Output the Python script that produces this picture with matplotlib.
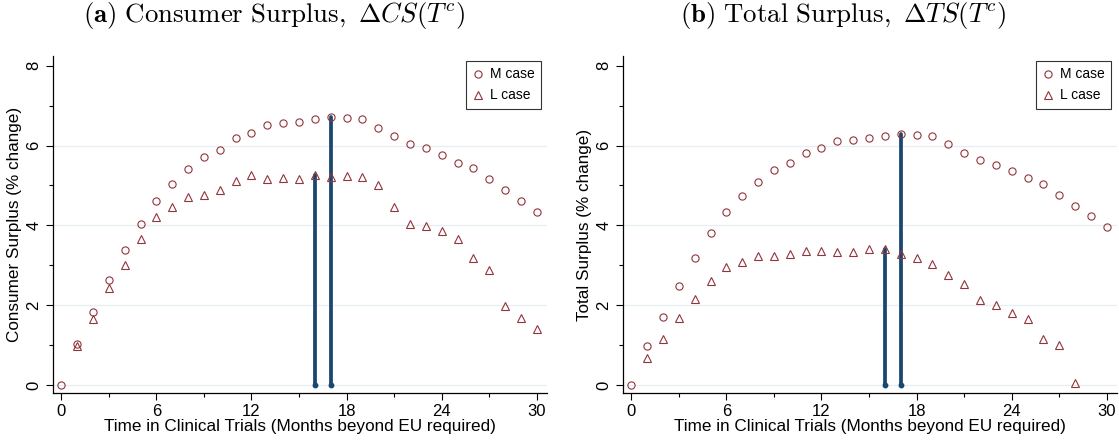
import matplotlib
matplotlib.use("Agg")
import matplotlib.pyplot as plt

plt.rcParams["font.family"] = ["Liberation Sans", "DejaVu Sans"]
plt.rcParams["mathtext.fontset"] = "cm"

months = list(range(31))

# Panel (a): consumer surplus, % change
cs_m = [0.0, 1.03, 1.82, 2.64, 3.37, 4.04, 4.61, 5.04, 5.41, 5.72, 5.90,
        6.19, 6.31, 6.51, 6.56, 6.60, 6.66, 6.71, 6.70, 6.66, 6.45,
        6.23, 6.03, 5.93, 5.76, 5.57, 5.43, 5.17, 4.88, 4.61, 4.34]
cs_l = [None, 0.98, 1.66, 2.42, 3.00, 3.67, 4.22, 4.45, 4.71, 4.77, 4.89,
        5.11, 5.25, 5.16, 5.19, 5.15, 5.26, 5.21, 5.23, 5.20, 5.01,
        4.47, 4.03, 3.99, 3.87, 3.66, 3.17, 2.88, 1.99, 1.69, 1.41]

# Panel (b): total surplus, % change
ts_m = [0.0, 0.98, 1.71, 2.49, 3.17, 3.81, 4.33, 4.73, 5.09, 5.38, 5.55,
        5.82, 5.94, 6.12, 6.15, 6.19, 6.25, 6.30, 6.27, 6.23, 6.03,
        5.81, 5.63, 5.52, 5.36, 5.18, 5.03, 4.77, 4.49, 4.23, 3.97]
ts_l = [None, 0.67, 1.14, 1.69, 2.16, 2.61, 2.96, 3.07, 3.22, 3.22, 3.27,
        3.36, 3.36, 3.32, 3.34, 3.40, 3.40, 3.27, 3.19, 3.04, 2.75,
        2.52, 2.13, 2.00, 1.81, 1.65, 1.14, 0.99, 0.04, None, None]

# optimal trial length (months) marked by arrows
opt_l = 16
opt_m = 17

panels = [
    (r"$\mathbf{(a)}\ \mathrm{Consumer\ Surplus,}\ \Delta CS(T^c)$",
     "Consumer Surplus (% change)", cs_m, cs_l),
    (r"$\mathbf{(b)}\ \mathrm{Total\ Surplus,}\ \Delta TS(T^c)$",
     "Total Surplus (% change)", ts_m, ts_l),
]

RED = "#90353b"
NAVY = "#1a476f"
GRID = "#e6eef1"

fig = plt.figure(figsize=(11.19, 4.45), dpi=100)
lefts = [0.0471, 0.5565]
title_x = [83 / 1119, 680 / 1119]

for i, (title, ylabel, m_vals, l_vals) in enumerate(panels):
    ax = fig.add_axes([lefts[i], 0.1169, 0.4415, 0.757])

    xm = [x for x, v in zip(months, m_vals) if v is not None]
    ym = [v for v in m_vals if v is not None]
    xl = [x for x, v in zip(months, l_vals) if v is not None]
    yl = [v for v in l_vals if v is not None]

    for g in [0, 2, 4, 6]:
        ax.axhline(g, color=GRID, lw=0.9, zorder=0)

    # arrows from zero up to the optimum of each case
    for xo, top in [(opt_l, l_vals[opt_l]), (opt_m, m_vals[opt_m])]:
        ax.plot([xo, xo], [0, top], color=NAVY, lw=2.7,
                solid_capstyle="round", zorder=2)
        ax.plot([xo], [0], ls="none", marker="o", ms=3.2, color=NAVY,
                zorder=2)

    ax.plot(xm, ym, ls="none", marker="o", ms=5.2, mfc="none", mec=RED,
            mew=0.8, label="M case", zorder=3)
    ax.plot(xl, yl, ls="none", marker="^", ms=5.4, mfc="none", mec=RED,
            mew=0.8, label="L case", zorder=3)

    ax.set_xlim(-0.54, 30.63)
    ax.set_ylim(-0.2, 8.24)
    ax.set_xticks([0, 6, 12, 18, 24, 30])
    ax.set_xticks([3, 9, 15, 21, 27], minor=True)
    ax.set_yticks([0, 2, 4, 6, 8])
    ax.set_yticks([1, 3, 5, 7], minor=True)
    ax.tick_params(axis="both", which="major", labelsize=12, length=5,
                   width=0.8, direction="out", pad=3)
    ax.tick_params(axis="both", which="minor", length=3, width=0.8)
    for lab in ax.get_yticklabels():
        lab.set_rotation(90)
        lab.set_va("center")

    for s in ["top", "right"]:
        ax.spines[s].set_visible(False)
    for s in ["left", "bottom"]:
        ax.spines[s].set_linewidth(0.9)

    ax.set_xlabel("Time in Clinical Trials (Months beyond EU required)",
                  fontsize=12.3, labelpad=0)
    ax.set_ylabel(ylabel, fontsize=12.3, labelpad=3)

    leg = ax.legend(loc="upper right", fontsize=10, frameon=True,
                    fancybox=False, edgecolor="black", handlelength=0.8,
                    handletextpad=0.5, borderpad=0.45, labelspacing=0.5,
                    borderaxespad=0, bbox_to_anchor=(0.9885, 0.985))
    leg.get_frame().set_linewidth(0.8)

    fig.text(title_x[i], 0.966, title, fontsize=19.3, ha="left", va="center")

fig.savefig("out.png", dpi=100)
